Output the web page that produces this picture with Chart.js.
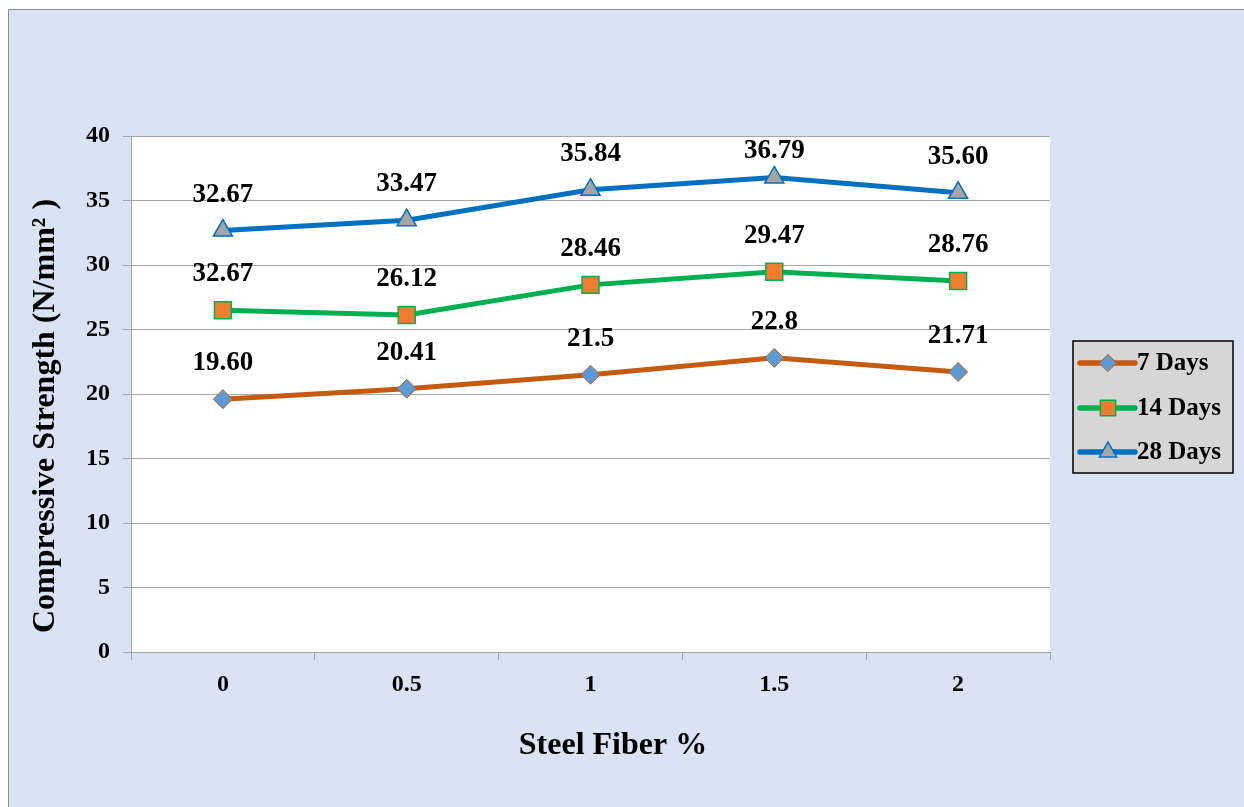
<!DOCTYPE html>
<html>
<head>
<meta charset="utf-8">
<script src="https://cdn.jsdelivr.net/npm/chart.js@4.4.1/dist/chart.umd.min.js"></script>
<style>
  html, body { margin: 0; padding: 0; background: #ffffff; }
  #c { display: block; }
</style>
</head>
<body>
<canvas id="c" width="1244" height="807"></canvas>
<script>
// Compressive strength of concrete vs. steel fibre content
const fiberPercent = ['0', '0.5', '1', '1.5', '2'];

const days7  = [19.60, 20.41, 21.5, 22.8, 21.71];
const days14 = [26.5, 26.12, 28.46, 29.47, 28.76];
const days28 = [32.67, 33.47, 35.84, 36.79, 35.60];

// Text printed above each point
const days7Text  = ['19.60', '20.41', '21.5', '22.8', '21.71'];
const days14Text = ['32.67', '26.12', '28.46', '29.47', '28.76'];
const days28Text = ['32.67', '33.47', '35.84', '36.79', '35.60'];

const yTicks = [0, 5, 10, 15, 20, 25, 30, 35, 40];

const xTitle = 'Steel Fiber %';
const yTitle = 'Compressive Strength (N/mm\u00B2 )';

const SERIF = '"Liberation Serif", "Times New Roman", serif';
const GRID = '#a6a6a6';

// Frame: light-blue chart area with a thin grey border on the left/top
const framePlugin = {
  id: 'frame',
  beforeDraw(chart) {
    const ctx = chart.ctx;
    ctx.save();
    ctx.fillStyle = '#ffffff';
    ctx.fillRect(0, 0, chart.width, chart.height);
    ctx.fillStyle = '#dae3f3';
    ctx.fillRect(8, 9, chart.width - 8, chart.height - 9);
    ctx.strokeStyle = '#8c8c8c';
    ctx.lineWidth = 1;
    ctx.beginPath();
    ctx.moveTo(8.5, chart.height);
    ctx.lineTo(8.5, 9.5);
    ctx.lineTo(chart.width, 9.5);
    ctx.stroke();
    const a = chart.chartArea;
    ctx.fillStyle = '#ffffff';
    ctx.fillRect(a.left, a.top, a.right - a.left, a.bottom - a.top);
    ctx.restore();
  }
};

// Axis titles
const axisTitlePlugin = {
  id: 'axisTitles',
  afterDraw(chart) {
    const ctx = chart.ctx;
    ctx.save();
    ctx.fillStyle = '#000000';
    ctx.font = 'bold 32px ' + SERIF;
    ctx.textAlign = 'center';
    ctx.textBaseline = 'middle';
    ctx.fillText(xTitle, 613, 746);
    ctx.translate(46, 416);
    ctx.rotate(-Math.PI / 2);
    ctx.fillText(yTitle, 0, 0);
    ctx.restore();
  }
};

// Text labels above every point, kept inside the plot area
const valueLabelPlugin = {
  id: 'valueLabels',
  afterDatasetsDraw(chart) {
    const ctx = chart.ctx;
    const top = chart.chartArea.top;
    ctx.save();
    ctx.font = 'bold 27px ' + SERIF;
    ctx.fillStyle = '#000000';
    ctx.textAlign = 'center';
    ctx.textBaseline = 'middle';
    chart.data.datasets.forEach((ds, i) => {
      const meta = chart.getDatasetMeta(i);
      meta.data.forEach((pt, j) => {
        const y = Math.max(pt.y - 36, top + 15);
        ctx.fillText(ds.pointText[j], pt.x, y);
      });
    });
    ctx.restore();
  }
};

function drawMarker(ctx, style, x, y, r, fill, stroke, bw) {
  ctx.beginPath();
  if (style === 'rectRot') {
    ctx.moveTo(x - r, y); ctx.lineTo(x, y - r); ctx.lineTo(x + r, y); ctx.lineTo(x, y + r);
  } else if (style === 'rect') {
    const s = r * Math.SQRT1_2;
    ctx.rect(x - s, y - s, 2 * s, 2 * s);
  } else {
    ctx.moveTo(x, y - r);
    ctx.lineTo(x + r * Math.sin(2 * Math.PI / 3), y - r * Math.cos(2 * Math.PI / 3));
    ctx.lineTo(x + r * Math.sin(4 * Math.PI / 3), y - r * Math.cos(4 * Math.PI / 3));
  }
  ctx.closePath();
  ctx.fillStyle = fill;
  ctx.fill();
  ctx.lineWidth = bw;
  ctx.strokeStyle = stroke;
  ctx.stroke();
}

// Legend box on the right, with line + marker swatches
const boxLegendPlugin = {
  id: 'boxLegend',
  afterDraw(chart) {
    const ctx = chart.ctx;
    const bx = 1073, by = 341, bw = 160, bh = 132;
    ctx.save();
    ctx.fillStyle = '#d6d6d6';
    ctx.fillRect(bx, by, bw, bh);
    ctx.strokeStyle = '#000000';
    ctx.lineWidth = 1.5;
    ctx.strokeRect(bx, by, bw, bh);
    const rows = [363, 408, 452];
    chart.data.datasets.forEach((ds, i) => {
      const y = rows[i];
      ctx.strokeStyle = ds.borderColor;
      ctx.lineWidth = ds.borderWidth + 0.5;
      ctx.lineCap = 'round';
      ctx.beginPath();
      ctx.moveTo(1080, y);
      ctx.lineTo(1135, y);
      ctx.stroke();
      drawMarker(ctx, ds.pointStyle, 1108, y, ds.pointRadius * 0.9,
        ds.pointBackgroundColor, ds.pointBorderColor, ds.pointBorderWidth);
      ctx.fillStyle = '#000000';
      ctx.font = 'bold 25px ' + SERIF;
      ctx.textAlign = 'left';
      ctx.textBaseline = 'middle';
      ctx.fillText(ds.label, 1137, y + 1);
    });
    ctx.restore();
  }
};

new Chart(document.getElementById('c'), {
  type: 'line',
  data: {
    labels: fiberPercent,
    datasets: [
      {
        label: '7 Days', data: days7, pointText: days7Text,
        borderColor: '#c55a11', borderWidth: 5,
        pointStyle: 'rectRot', pointRadius: 9.5, pointHoverRadius: 9.5,
        pointBackgroundColor: '#5b9bd5', pointBorderColor: '#c55a11', pointBorderWidth: 1
      },
      {
        label: '14 Days', data: days14, pointText: days14Text,
        borderColor: '#00b050', borderWidth: 5,
        pointStyle: 'rect', pointRadius: 12, pointHoverRadius: 12,
        pointBackgroundColor: '#ed7d31', pointBorderColor: '#00b050', pointBorderWidth: 1.5
      },
      {
        label: '28 Days', data: days28, pointText: days28Text,
        borderColor: '#0070c0', borderWidth: 5,
        pointStyle: 'triangle', pointRadius: 11, pointHoverRadius: 11,
        pointBackgroundColor: '#a5a5a5', pointBorderColor: '#0070c0', pointBorderWidth: 1.5
      }
    ]
  },
  options: {
    responsive: false,
    animation: false,
    events: [],
    layout: { padding: { left: 0, top: 136, right: 194, bottom: 0 } },
    plugins: {
      legend: { display: false },
      tooltip: { enabled: false },
      title: { display: false }
    },
    elements: { line: { tension: 0 } },
    scales: {
      x: {
        offset: true,
        afterFit(scale) { scale.height = 155; },
        grid: {
          offset: true, drawOnChartArea: false, drawTicks: true,
          tickLength: 8, color: GRID, lineWidth: 1
        },
        border: { display: true, color: GRID, width: 1 },
        ticks: {
          color: '#000000', padding: 10,
          font: { family: SERIF, size: 24, weight: 'bold' }
        }
      },
      y: {
        min: yTicks[0],
        max: yTicks[yTicks.length - 1],
        afterFit(scale) { scale.width = 131; },
        afterBuildTicks(scale) { scale.ticks = yTicks.map(v => ({ value: v })); },
        grid: { color: GRID, lineWidth: 1, tickLength: 8, drawTicks: true },
        border: { display: true, color: GRID, width: 1 },
        ticks: {
          color: '#000000', padding: 13,
          font: { family: SERIF, size: 24, weight: 'bold' }
        }
      }
    }
  },
  plugins: [framePlugin, valueLabelPlugin, axisTitlePlugin, boxLegendPlugin]
});
</script>
</body>
</html>
